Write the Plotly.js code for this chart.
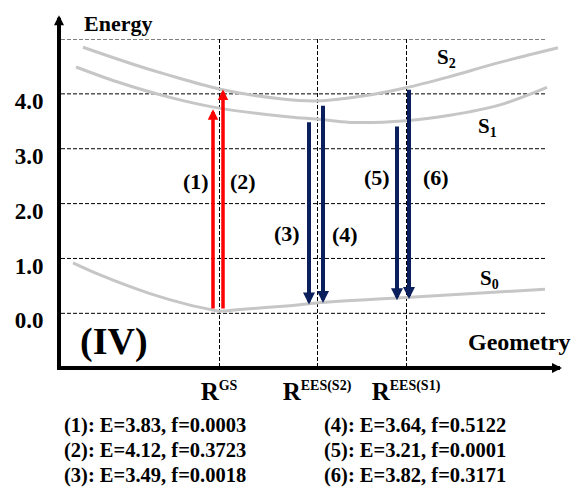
<!DOCTYPE html>
<html><head><meta charset="utf-8">
<script src="https://cdn.plot.ly/plotly-3.0.1.min.js"></script>
<style>html,body{margin:0;padding:0;background:#fff}#chart{width:577px;height:487px}</style>
</head><body><div id="chart"></div>
<script>
// ---------- data ----------
const geomTicks = [1.60, 2.58, 3.47];
const geomLabels = ['GS', 'EES(S2)', 'EES(S1)'];
const energyTicks = [0, 1, 2, 3, 4, 5];
const energyLabels = ['0.0', '1.0', '2.0', '3.0', '4.0', ''];

const s0X = [0.14, 0.41, 0.91, 1.31, 1.54, 1.60, 1.81, 2.31, 2.58, 3.47, 4.86];
const s0E = [0.92, 0.70, 0.36, 0.15, 0.06, 0.04, 0.07, 0.14, 0.19, 0.29, 0.44];
const s1X = [0.17, 0.58, 1.08, 1.60, 2.31, 2.58, 2.91, 3.47, 3.91, 4.41, 4.88];
const s1E = [4.49, 4.22, 3.95, 3.74, 3.58, 3.54, 3.48, 3.51, 3.61, 3.80, 4.12];
const s2X = [0.24, 0.74, 1.08, 1.60, 2.21, 2.58, 3.04, 3.47, 3.88, 4.38, 4.99];
const s2E = [4.85, 4.54, 4.35, 4.09, 3.91, 3.87, 3.96, 4.11, 4.30, 4.56, 4.84];

const transNames = ['(1)', '(2)', '(3)', '(4)', '(5)', '(6)'];
const transX = [1.54, 1.64, 2.50, 2.64, 3.38, 3.50];
const transFrom = [0.05, 0.05, 3.52, 3.82, 3.44, 4.11];
const transTo = [3.72, 4.08, 0.16, 0.19, 0.24, 0.26];
const transE = [3.83, 4.12, 3.49, 3.64, 3.21, 3.82];
const transF = ['0.0003', '0.3723', '0.0018', '0.5122', '0.0001', '0.3171'];

const stateNames = ['S<sub>0</sub>', 'S<sub>1</sub>', 'S<sub>2</sub>'];

// ---------- layout helpers ----------
const FONT = 'Liberation Serif, Times New Roman, serif';
const GREY = '#c6c6c6';
const RED = '#ff0000';
const NAVY = '#0b1f5c';
const labelPos = { x: [1.37, 1.84, 2.28, 2.86, 3.18, 3.77], y: [2.41, 2.40, 1.46, 1.43, 2.48, 2.48] };
const statePos = { x: [4.30, 4.28, 3.87], y: [0.62, 3.39, 4.66] };
const xRange = [0.02, 5.01];
const yRange = [-0.96, 5];

const curve = (x, y) => ({ x, y, type: 'scatter', mode: 'lines', line: { color: GREY, width: 3, shape: 'spline', smoothing: 0.9 }, hoverinfo: 'skip', showlegend: false });
const traces = [curve(s0X, s0E), curve(s1X, s1E), curve(s2X, s2E)];

const annotations = [];
// transition arrows
transX.forEach((x, i) => {
  const up = transTo[i] > transFrom[i];
  annotations.push({
    x: x, y: transTo[i], ax: x, ay: transFrom[i], xref: 'x', yref: 'y', axref: 'x', ayref: 'y',
    text: ' ', font: { size: 1 }, showarrow: true, arrowhead: 2,
    arrowwidth: up ? 3.5 : 4, arrowsize: 0.6, arrowcolor: up ? RED : NAVY
  });
  annotations.push({
    x: labelPos.x[i], y: labelPos.y[i], xref: 'x', yref: 'y', text: transNames[i], showarrow: false,
    font: { family: FONT, size: 22, color: '#000', weight: 700 }
  });
});
// state labels
stateNames.forEach((s, i) => annotations.push({
  x: statePos.x[i], y: statePos.y[i], xref: 'x', yref: 'y', showarrow: false,
  text: s.replace(/<sub>(.*?)<\/sub>/, '<sub><span style="font-size:14px">$1</span></sub>'),
  font: { family: FONT, size: 21, color: '#000', weight: 700 }
}));
// axis arrows
annotations.push({ x: -0.004, y: 1.073, xref: 'paper', yref: 'paper', ax: 0, ay: 26, text: ' ', font: { size: 1 },
  showarrow: true, arrowhead: 2, arrowwidth: 4, arrowsize: 0.5, arrowcolor: '#000' });
annotations.push({ x: 1.004, y: -0.006, xref: 'paper', yref: 'paper', ax: -26, ay: 0, text: ' ', font: { size: 1 },
  showarrow: true, arrowhead: 2, arrowwidth: 4, arrowsize: 0.5, arrowcolor: '#000' });
// axis titles and panel label
annotations.push({ x: 0.042, y: 1.047, xref: 'paper', yref: 'paper', xanchor: 'left', yanchor: 'middle', showarrow: false,
  text: 'Energy', font: { family: FONT, size: 22, color: '#000', weight: 700 } });
annotations.push({ x: 0.812, y: 0.073, xref: 'paper', yref: 'paper', xanchor: 'left', yanchor: 'middle', showarrow: false,
  text: 'Geometry', font: { family: FONT, size: 24, color: '#000', weight: 700 } });
annotations.push({ x: 0.034, y: 0.075, xref: 'paper', yref: 'paper', xanchor: 'left', yanchor: 'middle', showarrow: false,
  text: '(IV)', font: { family: FONT, size: 38, color: '#000', weight: 700 } });
// transition table
const rowY = [-0.182, -0.258, -0.335];
transNames.forEach((n, i) => annotations.push({
  x: i < 3 ? 0.002 : 0.523, y: rowY[i % 3], xref: 'paper', yref: 'paper', xanchor: 'left', yanchor: 'middle', showarrow: false,
  text: n + ': E=' + transE[i].toFixed(2) + ', f=' + transF[i],
  font: { family: FONT, size: 20.5, color: '#000', weight: 700 }
}));

// horizontal dashed guide lines
const shapes = energyTicks.map(v => ({
  type: 'line', xref: 'x', yref: 'y', x0: xRange[0], x1: 4.88, y0: v, y1: v,
  line: { color: '#000', width: 1, dash: '4px,2px' }, layer: 'below'
}));

const layout = {
  width: 577, height: 487,
  margin: { l: 61, r: 17, t: 39, b: 121 },
  paper_bgcolor: '#fff', plot_bgcolor: '#fff',
  showlegend: false,
  xaxis: {
    range: xRange, tickmode: 'array', tickvals: geomTicks,
    ticktext: geomLabels.map(s => 'R<sup><span style="font-size:14px">' + s + '</span></sup>'),
    tickfont: { family: FONT, size: 25, color: '#000', weight: 700 },
    ticks: '', showgrid: true, gridcolor: '#000', gridwidth: 1, griddash: '4px,2px',
    zeroline: false, showline: true, linecolor: '#000', linewidth: 4, ticklabelstandoff: 0
  },
  yaxis: {
    range: yRange, tickmode: 'array', tickvals: energyTicks, ticktext: energyLabels,
    tickfont: { family: FONT, size: 23, color: '#000', weight: 700 },
    ticks: '', showgrid: false, zeroline: false, showline: true, linecolor: '#000', linewidth: 4,
    ticklabelshift: 7, ticklabelstandoff: 9
  },
  shapes, annotations
};
Plotly.newPlot('chart', traces, layout, { displayModeBar: false, staticPlot: true });
</script></body></html>
